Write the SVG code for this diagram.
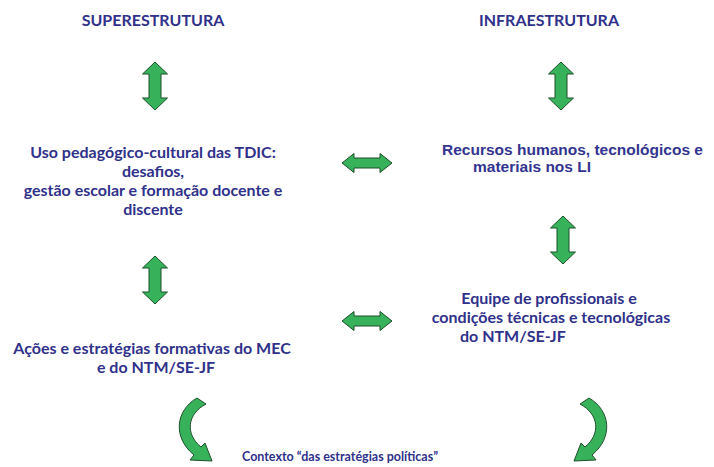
<svg xmlns="http://www.w3.org/2000/svg" width="714" height="467" viewBox="0 0 714 467">
<defs>
<style>
.t{font-family:Lato,"Open Sans","Liberation Sans",sans-serif;font-weight:bold;font-size:16px;fill:#2f318a;text-anchor:middle}
.a{font-family:"Liberation Sans",Arial,sans-serif;font-weight:bold;font-size:15.5px;fill:#32348f}
.arr{fill:#38b25a;stroke:#1d4f2a;stroke-width:1;stroke-linejoin:miter}
</style>
<path id="vd" d="M0,0 L12.5,12 L6,12 L6,36 L12.5,36 L0,48 L-12.5,36 L-6,36 L-6,12 L-12.5,12 Z"/>
<path id="hd" d="M0,0 L12,-9.5 L12,-5 L38,-5 L38,-9.5 L50,0 L38,9.5 L38,5 L12,5 L12,9.5 Z"/>
<path id="cv" d="M197,398 C176,410 172,437 194,455 L190,460 L212,461 L205,443 L201,447 C185,434 187,414 206,404 Z"/>
</defs>
<rect width="714" height="467" fill="#ffffff"/>
<g id="n-super"><text class="t" x="153" y="26">SUPERESTRUTURA</text></g>
<g id="n-infra"><text class="t" x="549" y="26">INFRAESTRUTURA</text></g>
<g id="n-uso">
<text class="t" x="153" y="158">Uso pedagógico-cultural das TDIC:</text>
<text class="t" x="153" y="177">desafios,</text>
<text class="t" x="153" y="196">gestão escolar e formação docente e</text>
<text class="t" x="153" y="215">discente</text>
</g>
<g id="n-recursos">
<text class="a" x="442" y="155">Recursos humanos, tecnológicos e</text>
<text class="a" x="473" y="172">materiais nos LI</text>
</g>
<g id="n-acoes">
<text class="t" x="152" y="354">Ações e estratégias formativas do MEC</text>
<text class="t" x="156" y="373">e do NTM/SE-JF</text>
</g>
<g id="n-equipe">
<text class="t" x="549" y="304">Equipe de profissionais e</text>
<text class="t" x="551" y="323">condições técnicas e tecnológicas</text>
<text class="t" x="460" y="342" style="text-anchor:start">do NTM/SE-JF</text>
</g>
<g id="n-contexto"><text class="t" x="340" y="461" style="font-size:14px" textLength="196" lengthAdjust="spacingAndGlyphs">Contexto “das estratégias políticas”</text></g>
<g id="connectors">
<use href="#vd" class="arr" x="155" y="62"/>
<use href="#vd" class="arr" x="561" y="62"/>
<use href="#vd" class="arr" x="563" y="216"/>
<use href="#vd" class="arr" x="155" y="256"/>
<use href="#hd" class="arr" x="342" y="163"/>
<use href="#hd" class="arr" x="342" y="321"/>
<use href="#cv" class="arr"/>
<use href="#cv" class="arr" transform="translate(786,0) scale(-1,1)"/>
</g>
</svg>
